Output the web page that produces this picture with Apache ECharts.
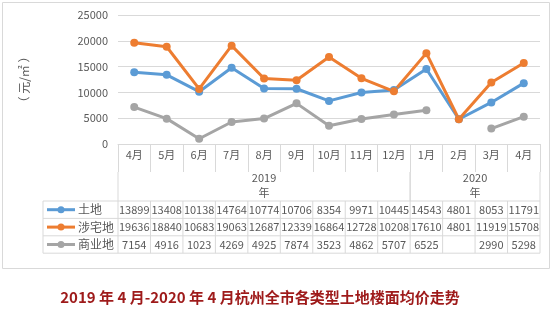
<!DOCTYPE html>
<html><head><meta charset="utf-8">
<script src="https://cdn.jsdelivr.net/npm/echarts@6/dist/echarts.min.js"></script>
<style>html,body{margin:0;padding:0;background:#fff}#c{width:557px;height:309px}</style>
</head><body><div id="c"></div>
<script>
const categories = ['4月','5月','6月','7月','8月','9月','10月','11月','12月','1月','2月','3月','4月'];
const yearGroups = [{label:'2019\n年', start:0, end:8}, {label:'2020\n年', start:9, end:12}];
const seriesNames = ['土地','涉宅地','商业地'];
const landValues = [13899,13408,10138,14764,10774,10706,8354,9971,10445,14543,4801,8053,11791];
const residentialValues = [19636,18840,10683,19063,12687,12339,16864,12728,10208,17610,4801,11919,15708];
const commercialValues = [7154,4916,1023,4269,4925,7874,3523,4862,5707,6525,null,2990,5298];
const yTicks = {min:0, max:25000, interval:5000};
const colors = ['#5B9BD5','#ED7D31','#A5A5A5'];
const allValues = [landValues, residentialValues, commercialValues];
const FONT = '"Noto Sans CJK SC", "Noto Sans", sans-serif';
const GRID = '#d9d9d9';
const TXT = '#595959';

const chart = echarts.init(document.getElementById('c'));
chart.setOption({
  animation:false,
  grid:{left:118, right:17, top:15, bottom:165, containLabel:false},
  xAxis:{type:'category', data:categories, boundaryGap:true,
    axisLine:{lineStyle:{color:GRID}},
    axisTick:{show:true, length:28, alignWithLabel:false, lineStyle:{color:GRID}},
    axisLabel:{color:TXT, fontSize:11, fontFamily:FONT, margin:5, interval:0}},
  yAxis:{type:'value', min:yTicks.min, max:yTicks.max, interval:yTicks.interval,
    name:'（ 元/㎡ ）', nameLocation:'middle', nameGap:88, nameRotate:90,
    nameTextStyle:{color:TXT, fontSize:12, fontFamily:FONT},
    axisLine:{show:false}, axisTick:{show:false},
    axisLabel:{color:TXT, fontSize:11, fontFamily:FONT, margin:10, formatter:v=>String(v)},
    splitLine:{lineStyle:{color:GRID}}},
  series: seriesNames.map((n,i)=>({name:n, type:'line', data:allValues[i],
    symbol:'circle', symbolSize:8, connectNulls:false,
    lineStyle:{width:3, color:colors[i]}, itemStyle:{color:colors[i]}}))
});

const c0 = chart.convertToPixel({xAxisIndex:0}, 0);
const c1 = chart.convertToPixel({xAxisIndex:0}, 1);
const bw = c1 - c0;
const left = c0 - bw/2;
const right = left + bw*categories.length;
const axisY = chart.convertToPixel({yAxisIndex:0}, 0);
const yearTop = axisY + 28, rowTop = axisY + 57, rowH = 17.4;
const tableLeft = 43;
const g = [];
const line = (x1,y1,x2,y2)=>g.push({type:'line', shape:{x1,y1,x2,y2}, style:{stroke:GRID, lineWidth:1}, silent:true});
g.push({type:'rect', shape:{x:2.5,y:2.5,width:547,height:266}, style:{fill:null, stroke:GRID, lineWidth:1}, silent:true});
yearGroups.forEach(gr=>{
  const xs = left + gr.start*bw, xe = left + (gr.end+1)*bw;
  line(xs, yearTop, xs, rowTop); line(xe, yearTop, xe, rowTop);
  g.push({type:'text', x:(xs+xe)/2, y:(yearTop+rowTop)/2 - 1, style:{text:gr.label, fill:TXT, fontSize:11, fontFamily:FONT, align:'center', verticalAlign:'middle', lineHeight:15}, silent:true});
});
for (let r=0;r<=seriesNames.length;r++) line(tableLeft, rowTop + r*rowH, right, rowTop + r*rowH);
line(tableLeft, rowTop, tableLeft, rowTop + rowH*seriesNames.length);
for (let i=0;i<=categories.length;i++) line(left+i*bw, rowTop, left+i*bw, rowTop + rowH*seriesNames.length);
seriesNames.forEach((n,r)=>{
  const cy = rowTop + r*rowH + rowH/2;
  g.push({type:'line', shape:{x1:47,y1:cy,x2:75,y2:cy}, style:{stroke:colors[r], lineWidth:3}, silent:true});
  g.push({type:'circle', shape:{cx:61, cy:cy, r:3.5}, style:{fill:colors[r]}, silent:true});
  g.push({type:'text', x:78, y:cy, style:{text:n, fill:TXT, fontSize:12, fontFamily:FONT, align:'left', verticalAlign:'middle'}, silent:true});
  allValues[r].forEach((v,i)=>{
    if (v==null) return;
    g.push({type:'text', x:left+(i+0.5)*bw, y:cy, style:{text:String(v), fill:TXT, fontSize:11, fontFamily:FONT, align:'center', verticalAlign:'middle'}, silent:true});
  });
});
g.push({type:'text', x:260, y:297, style:{text:'2019 年 4 月-2020 年 4 月杭州全市各类型土地楼面均价走势', fill:'#9E1A1A', fontSize:15, fontWeight:'bold', fontFamily:FONT, align:'center', verticalAlign:'middle'}, silent:true});
chart.setOption({graphic:g});
</script></body></html>
